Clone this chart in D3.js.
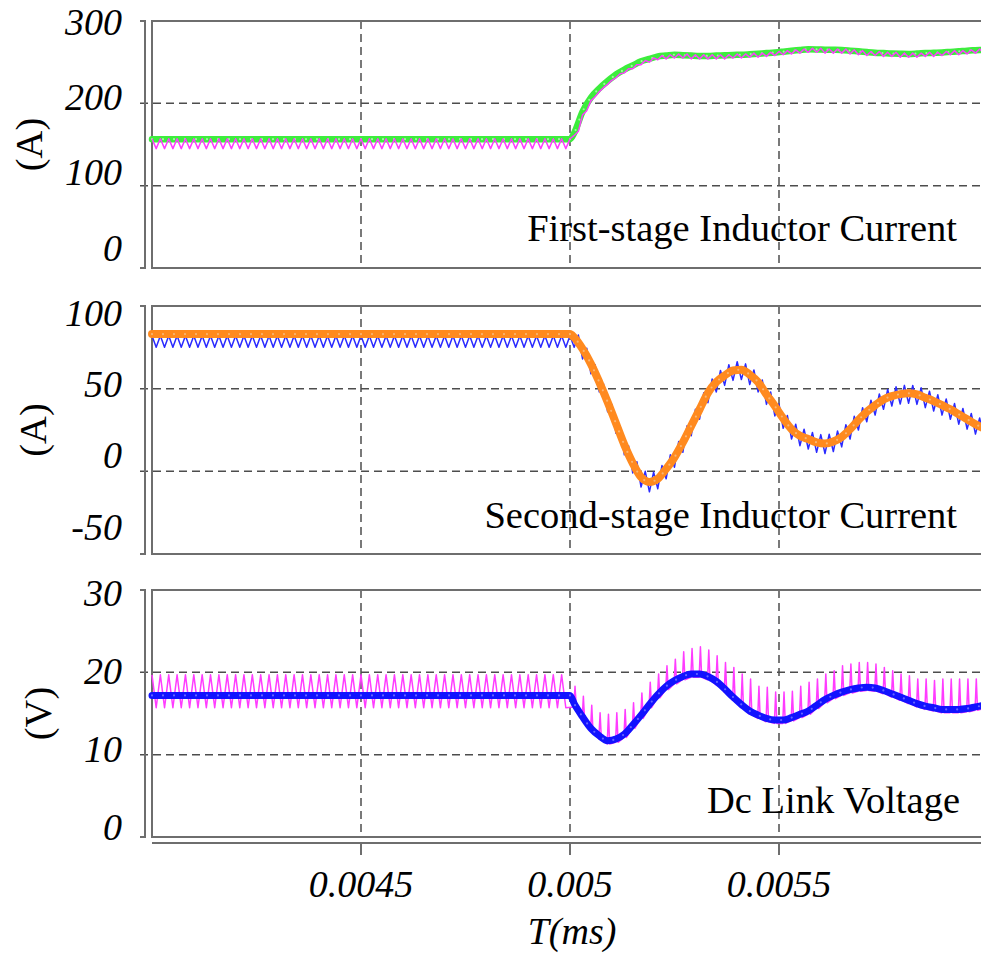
<!DOCTYPE html>
<html lang="en">
<head>
  <meta charset="utf-8">
  <script src="https://d3js.org/d3.v7.min.js"></script>
  <style>
    body { margin: 0; background: #fff; }
    svg { display: block; }
    .tick-label {
      font-family: "Liberation Serif", "Times New Roman", serif;
      font-style: italic;
      font-size: 38px;
      fill: #000;
    }
    .unit-label, .panel-title {
      font-family: "Liberation Serif", "Times New Roman", serif;
      font-size: 38.5px;
      fill: #000;
    }
    .frame { fill: none; stroke: #6e6e6e; stroke-width: 2; }
    .grid { stroke: #4d4d4d; stroke-width: 1.5; stroke-dasharray: 8 5; fill: none; }
  </style>
</head>
<body>
<svg id="chart" width="981" height="966"></svg>

<script>
// ---- data (time in s, as on the T(ms) axis) ----
var xTicks = [0.0045, 0.005, 0.0055];
var xTickLabels = ["0.0045", "0.005", "0.0055"];
var stepTime = 0.005;
var swPeriod = 0.00002;               // switching period
var tSw = d3.range(100).map(function (k) { return 0.004 + k * swPeriod; });
var tAvg = [0.004, 0.005].concat(d3.range(50).map(function (k) { return 0.00501 + k * swPeriod; }));

// first-stage inductor current (A)
var iL1Ticks = [0, 100, 200, 300];
var iL1Avg = [156.5, 156.5,
  164, 190, 207, 218, 227, 235, 241, 246, 251, 254,
  257, 258, 259, 258.5, 258, 257.6, 257.6, 258, 258.4, 258.8,
  259, 259.6, 260.3, 261, 261.7, 262.7, 263.8, 264.8, 265.6, 265.5,
  265.2, 265, 264.7, 264, 263.2, 262.3, 261.5, 261, 260.5, 260.2,
  260, 260.4, 261, 261.4, 261.8, 262.5, 263.2, 264, 264.5, 265];
var iL1RipHi = [
  157, 157, 157, 157, 157, 157, 157, 157, 157, 157,
  157, 157, 157, 157, 157, 157, 157, 157, 157, 157,
  157, 157, 157, 157, 157, 157, 157, 157, 157, 157,
  157, 157, 157, 157, 157, 157, 157, 157, 157, 157,
  157, 157, 157, 157, 157, 157, 157, 157, 157, 157,
  157, 166, 191, 208, 219, 228, 236, 242, 247, 252,
  255, 258, 259, 260, 260, 259, 259, 259, 259, 259,
  260, 260, 261, 261, 262, 263, 264, 265, 266, 267,
  267, 266, 266, 266, 265, 264, 263, 263, 262, 262,
  261, 261, 261, 262, 262, 263, 264, 264, 265, 266];
var iL1RipLo = [
  145, 145, 145, 145, 145, 145, 145, 145, 145, 145,
  145, 145, 145, 145, 145, 145, 145, 145, 145, 145,
  145, 145, 145, 145, 145, 145, 145, 145, 145, 145,
  145, 145, 145, 145, 145, 145, 145, 145, 145, 145,
  145, 145, 145, 145, 145, 145, 145, 145, 145, 145,
  161, 186, 203, 214, 223, 231, 237, 242, 247, 250,
  253, 254, 255, 255, 254, 254, 254, 254, 254, 255,
  255, 256, 256, 257, 258, 259, 260, 261, 262, 262,
  261, 261, 261, 260, 259, 258, 258, 257, 257, 256,
  256, 256, 257, 257, 258, 259, 259, 260, 261, 261];

// second-stage inductor current (A)
var iL2Ticks = [-50, 0, 50, 100];
var iL2Avg = [83, 83,
  81, 74, 65, 54, 42, 29, 16, 5, -3.5, -6.4,
  -4.5, 1.5, 8.5, 17.5, 27.5, 37.5, 47.5, 54, 58, 61,
  61.5, 58.5, 54, 46.5, 39.5, 32, 25.5, 21.5, 19.5, 17.5,
  16.8, 18, 20.8, 25.5, 31, 36, 40, 43.5, 45.5, 46.7,
  47.2, 46.5, 44.5, 42.5, 40, 37.5, 34.5, 31.5, 28.5, 26];
var iL2RipHi = [
  82, 82, 82, 82, 82, 82, 82, 82, 82, 82,
  82, 82, 82, 82, 82, 82, 82, 82, 82, 82,
  82, 82, 82, 82, 82, 82, 82, 82, 82, 82,
  82, 82, 82, 82, 82, 82, 82, 82, 82, 82,
  82, 82, 82, 82, 82, 82, 82, 82, 82, 82,
  82, 82.5, 74.5, 64.5, 53, 40.5, 27.5, 15.5, 5.8, 0,
  -0.5, 3.5, 10, 18, 27.5, 37.5, 47.5, 55.8, 61, 64.5,
  66.3, 65, 61.3, 55.3, 48, 40.8, 33.8, 28.5, 25.5, 23.5,
  22.2, 22.4, 24.4, 28.2, 33.3, 38.5, 43, 46.8, 49.5, 51.1,
  52, 51.9, 50.5, 48.5, 46.3, 43.8, 41, 38, 35, 32.3];
var iL2RipLo = [
  75, 75, 75, 75, 75, 75, 75, 75, 75, 75,
  75, 75, 75, 75, 75, 75, 75, 75, 75, 75,
  75, 75, 75, 75, 75, 75, 75, 75, 75, 75,
  75, 75, 75, 75, 75, 75, 75, 75, 75, 75,
  75, 75, 75, 75, 75, 75, 75, 75, 75, 75,
  75, 68, 59, 48, 36, 23, 10, -1, -9.5, -12.4,
  -10.5, -4.5, 2.5, 11.5, 21.5, 31.5, 41.5, 48, 52, 55,
  55.5, 52.5, 48, 40.5, 33.5, 26, 19.5, 15.5, 13.5, 11.5,
  10.8, 12, 14.8, 19.5, 25, 30, 34, 37.5, 39.5, 40.7,
  41.2, 40.5, 38.5, 36.5, 34, 31.5, 28.5, 25.5, 22.5, 20];

// dc link voltage (V)
var vdcTicks = [0, 10, 20, 30];
var vdcAvg = [17.2, 17.2,
  16.2, 14.6, 13.2, 12.3, 11.7, 11.9, 12.5, 13.6, 14.8, 16.1,
  17.3, 18.3, 19.0, 19.5, 19.8, 19.8, 19.5, 18.9, 18.0, 17.0,
  16.1, 15.3, 14.8, 14.4, 14.2, 14.2, 14.5, 14.9, 15.3, 16.0,
  16.7, 17.2, 17.6, 17.9, 18.1, 18.2, 18.1, 17.8, 17.4, 17.0,
  16.6, 16.2, 15.9, 15.7, 15.5, 15.5, 15.5, 15.6, 15.8, 16.0];
var vdcRipHi = [
  19.7, 19.7, 19.7, 19.7, 19.7, 19.7, 19.7, 19.7, 19.7, 19.7,
  19.7, 19.7, 19.7, 19.7, 19.7, 19.7, 19.7, 19.7, 19.7, 19.7,
  19.7, 19.7, 19.7, 19.7, 19.7, 19.7, 19.7, 19.7, 19.7, 19.7,
  19.7, 19.7, 19.7, 19.7, 19.7, 19.7, 19.7, 19.7, 19.7, 19.7,
  19.7, 19.7, 19.7, 19.7, 19.7, 19.7, 19.7, 19.7, 19.7, 19.7,
  18.3, 17.1, 16.0, 15.1, 14.9, 15.1, 15.5, 16.3, 17.5, 18.8,
  19.8, 20.8, 21.6, 22.5, 22.9, 23.1, 22.7, 22.0, 21.2, 20.6,
  19.8, 19.2, 18.3, 18.2, 17.6, 17.6, 17.7, 18.3, 18.8, 19.2,
  19.8, 20.2, 20.8, 21.0, 21.2, 21.2, 21.0, 20.6, 20.2, 19.8,
  19.6, 19.2, 19.2, 19.0, 19.2, 19.2, 19.2, 19.2, 19.2, 19.4];
var vdcRipLo = [
  15.7, 15.7, 15.7, 15.7, 15.7, 15.7, 15.7, 15.7, 15.7, 15.7,
  15.7, 15.7, 15.7, 15.7, 15.7, 15.7, 15.7, 15.7, 15.7, 15.7,
  15.7, 15.7, 15.7, 15.7, 15.7, 15.7, 15.7, 15.7, 15.7, 15.7,
  15.7, 15.7, 15.7, 15.7, 15.7, 15.7, 15.7, 15.7, 15.7, 15.7,
  15.7, 15.7, 15.7, 15.7, 15.7, 15.7, 15.7, 15.7, 15.7, 15.7,
  15.8, 14.2, 12.8, 11.9, 11.3, 11.5, 12.1, 13.2, 14.4, 15.7,
  16.9, 17.9, 18.6, 19.1, 19.4, 19.4, 19.1, 18.5, 17.6, 16.6,
  15.7, 14.9, 14.4, 14.0, 13.8, 13.8, 14.1, 14.5, 14.9, 15.6,
  16.3, 16.8, 17.2, 17.5, 17.7, 17.8, 17.7, 17.4, 17.0, 16.6,
  16.2, 15.8, 15.5, 15.3, 15.1, 15.1, 15.1, 15.2, 15.4, 15.6];

// ---- layout ----
var svg = d3.select("#chart");
var left = 152, right = 988, axisX = 145;

var x = d3.scaleLinear().domain([0.004, 0.006]).range([left, right]);

var panels = [
  { top: 21, bottom: 268, ticks: iL1Ticks, unit: "(A)", unitX: 29, labelSpan: [22, 248],
    title: "First-stage Inductor Current", titleX: 957, titleY: 241,
    avg: iL1Avg, avgColor: "#3ded3d", avgDot: "#b8f8b8", avgWidth: 6.5,
    hi: iL1RipHi, lo: iL1RipLo, ripColor: "#ff3cff", rippleOnTop: true, spike: false },
  { top: 306, bottom: 554, ticks: iL2Ticks, unit: "(A)", unitX: 33, labelSpan: [313, 527],
    title: "Second-stage Inductor Current", titleX: 957, titleY: 528,
    avg: iL2Avg, avgColor: "#ff8a1f", avgDot: "#f8c08a", avgWidth: 8,
    hi: iL2RipHi, lo: iL2RipLo, ripColor: "#2a2aff", rippleOnTop: false, spike: false },
  { top: 590, bottom: 837, ticks: vdcTicks, unit: "(V)", unitX: 38, labelSpan: [593, 827],
    title: "Dc Link Voltage", titleX: 960, titleY: 813,
    avg: vdcAvg, avgColor: "#1212ff", avgDot: "#7a7aff", avgWidth: 7,
    hi: vdcRipHi, lo: vdcRipLo, ripColor: "#ff3cff", rippleOnTop: false, spike: true }
];

// zigzag vertices from the peak / valley of each switching period
function rippleVertices(hi, lo, spike) {
  var pts = [];
  tSw.forEach(function (t, k) {
    if (spike && t >= stepTime - 1e-9) {
      pts.push([t + 0.45 * swPeriod, lo[k]], [t + 0.6 * swPeriod, hi[k]], [t + 0.75 * swPeriod, lo[k]]);
    } else {
      pts.push([t, hi[k]], [t + 0.5 * swPeriod, lo[k]]);
    }
  });
  return pts;
}

panels.forEach(function (p, i) {
  var ext = d3.extent(p.ticks);
  var y = d3.scaleLinear().domain(ext).range([p.bottom, p.top]);
  var labelY = d3.scaleLinear().domain(ext).range([p.labelSpan[1], p.labelSpan[0]]);
  var g = svg.append("g");

  // grid
  g.selectAll(".hgrid").data(p.ticks.slice(1, -1)).enter().append("line")
    .attr("class", "grid")
    .attr("x1", 140).attr("x2", 981)
    .attr("y1", function (d) { return y(d); }).attr("y2", function (d) { return y(d); });
  g.selectAll(".vgrid").data(xTicks).enter().append("line")
    .attr("class", "grid")
    .attr("x1", function (d) { return x(d); }).attr("x2", function (d) { return x(d); })
    .attr("y1", p.top).attr("y2", p.bottom);

  // frame + outer left axis line
  g.append("path").attr("class", "frame")
    .attr("d", "M" + (right + 5) + "," + p.top + "H" + left + "V" + p.bottom + "H" + (right + 5));
  g.append("path").attr("class", "frame")
    .attr("d", "M140," + p.top + "H" + axisX + "V" + p.bottom + "H140");

  // traces
  var clipId = "clip" + i;
  svg.append("clipPath").attr("id", clipId).append("rect")
    .attr("x", left - 4).attr("y", p.top + 1).attr("width", right - left + 8).attr("height", p.bottom - p.top - 2);
  var plot = g.append("g").attr("clip-path", "url(#" + clipId + ")");

  var avgLine = d3.line()
    .x(function (d, j) { return x(tAvg[j]); })
    .y(function (d) { return y(d); })
    .curve(d3.curveMonotoneX);
  var ripLine = d3.line()
    .x(function (d) { return x(d[0]); })
    .y(function (d) { return y(d[1]); });

  function drawRipple() {
    plot.append("path")
      .attr("d", ripLine(rippleVertices(p.hi, p.lo, p.spike)))
      .attr("fill", "none").attr("stroke", p.ripColor)
      .attr("stroke-width", 1.5).attr("stroke-linejoin", "round");
  }
  function drawAvg() {
    plot.append("path")
      .attr("d", avgLine(p.avg))
      .attr("fill", "none").attr("stroke", p.avgColor)
      .attr("stroke-width", p.avgWidth).attr("stroke-linecap", "round");
    plot.append("path")
      .attr("d", avgLine(p.avg))
      .attr("fill", "none").attr("stroke", p.avgDot)
      .attr("stroke-width", 2.2).attr("stroke-linecap", "round")
      .attr("stroke-dasharray", "0 11").attr("opacity", 0.8);
  }
  if (p.rippleOnTop) { drawAvg(); drawRipple(); } else { drawRipple(); drawAvg(); }

  // y tick labels
  g.selectAll(".ylab").data(p.ticks).enter().append("text")
    .attr("class", "tick-label")
    .attr("x", 122)
    .attr("y", function (d) { return labelY(d); })
    .attr("dy", "0.33em")
    .attr("text-anchor", "end")
    .text(function (d) { return d; });

  // unit label
  g.append("text").attr("class", "unit-label")
    .attr("transform", "translate(" + p.unitX + "," + ((p.top + p.bottom) / 2) + ") rotate(-90)")
    .attr("dy", "0.35em")
    .attr("text-anchor", "middle")
    .text(p.unit);

  // title
  g.append("text").attr("class", "panel-title")
    .attr("x", p.titleX).attr("y", p.titleY)
    .attr("text-anchor", "end")
    .text(p.title);
});

// bottom time axis
var xAxisY = 843;
svg.append("line")
  .attr("x1", left).attr("x2", 981).attr("y1", xAxisY).attr("y2", xAxisY)
  .attr("stroke", "#6e6e6e").attr("stroke-width", 2);
svg.selectAll(".xtick").data(xTicks).enter().append("line")
  .attr("x1", function (d) { return x(d); }).attr("x2", function (d) { return x(d); })
  .attr("y1", xAxisY).attr("y2", xAxisY + 12)
  .attr("stroke", "#6e6e6e").attr("stroke-width", 2);
svg.selectAll(".xlab").data(xTicks).enter().append("text")
  .attr("class", "tick-label")
  .attr("x", function (d) { return x(d); })
  .attr("y", 897)
  .attr("text-anchor", "middle")
  .text(function (d, j) { return xTickLabels[j]; });
svg.append("text")
  .attr("class", "tick-label")
  .attr("x", 572).attr("y", 944)
  .attr("text-anchor", "middle")
  .text("T(ms)");
</script>
</body>
</html>
